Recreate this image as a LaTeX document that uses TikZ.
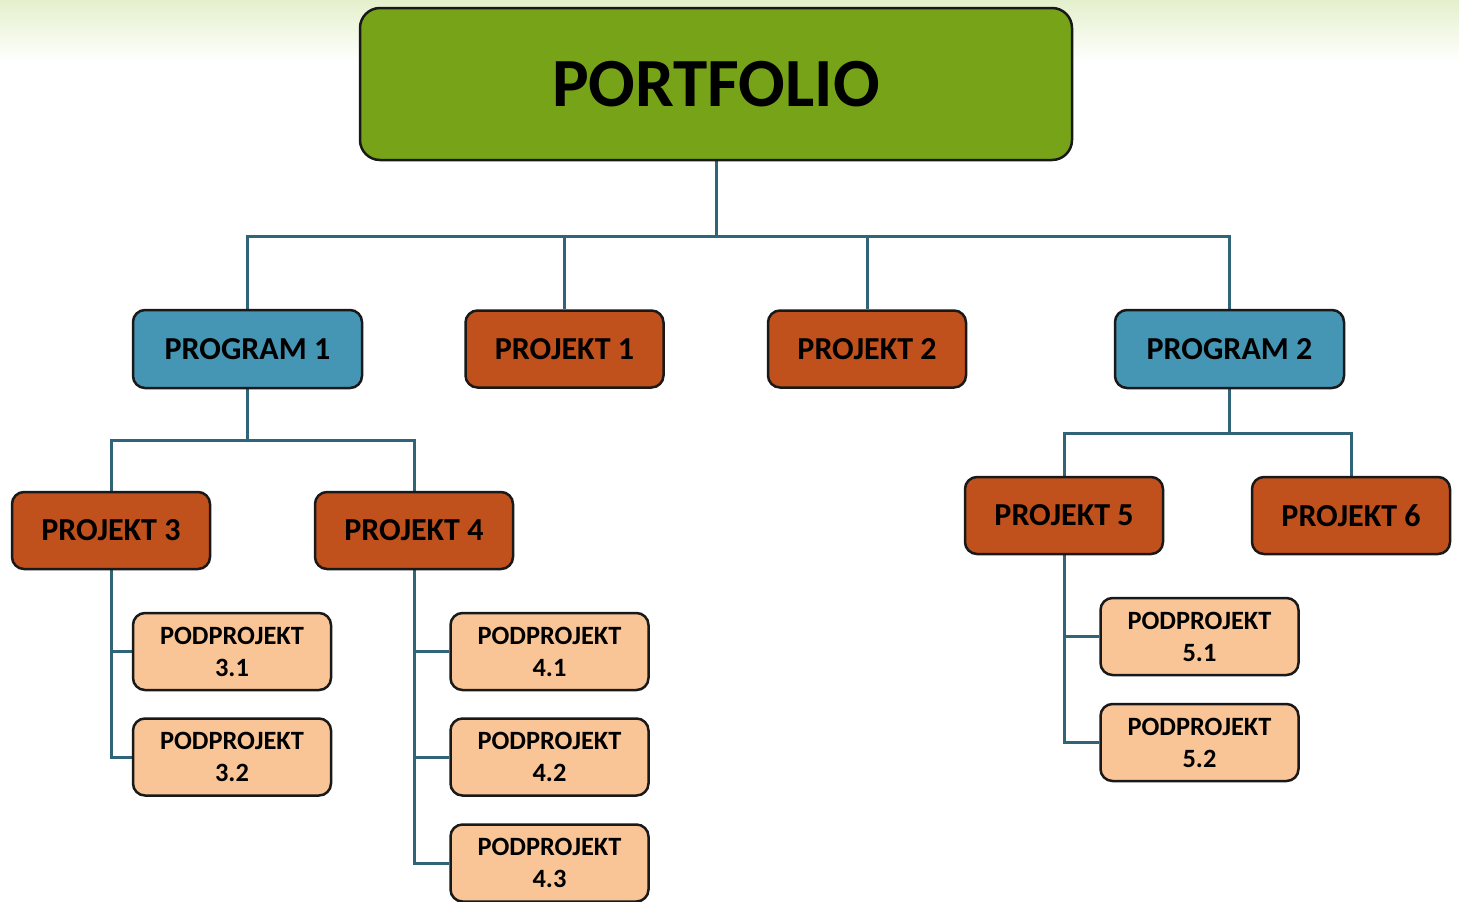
\documentclass[tikz,border=0pt]{standalone}
\usepackage{fontspec}
\setmainfont{Carlito}
\usetikzlibrary{backgrounds}
\definecolor{portgreen}{HTML}{77A318}
\definecolor{progblue}{HTML}{4496B4}
\definecolor{projorange}{HTML}{C0501C}
\definecolor{subpeach}{HTML}{F9C596}
\definecolor{linkteal}{HTML}{2F6479}
\definecolor{bgtop}{HTML}{E4F0CC}

\begin{document}
\begin{tikzpicture}[x=1pt, y=-1pt,
    box/.style={draw=black!90, line width=2.5pt, rounded corners=12pt, inner sep=0pt, text=black, font=\bfseries},
    top/.style={box, fill=portgreen, minimum width=712pt, minimum height=152pt, rounded corners=20pt, font=\fontsize{69}{75}\selectfont\bfseries},
    prog/.style={box, fill=progblue, minimum width=229pt, minimum height=78pt, font=\fontsize{32}{36}\selectfont\bfseries},
    proj/.style={box, fill=projorange, minimum width=198pt, minimum height=77pt, font=\fontsize{32}{36}\selectfont\bfseries},
    sub/.style={box, fill=subpeach, minimum width=198pt, minimum height=77pt, align=center, font=\fontsize{26.4}{32}\selectfont\bfseries},
    link/.style={draw=linkteal, line width=3pt}]
			\useasboundingbox (0,0) rectangle (1459,902);
			% nodes
			\node[top] (port) at (716,84) {PORTFOLIO};
			\node[prog] (prg1) at (247.5,349) {PROGRAM 1};
			\node[proj] (pj1) at (564.5,349) {PROJEKT 1};
			\node[proj] (pj2) at (867,349) {PROJEKT 2};
			\node[prog] (prg2) at (1229.5,349) {PROGRAM 2};
			\node[proj] (pj3) at (111,530.5) {PROJEKT 3};
			\node[proj] (pj4) at (414,530.5) {PROJEKT 4};
			\node[proj] (pj5) at (1064,515.5) {PROJEKT 5};
			\node[proj] (pj6) at (1351,515.5) {PROJEKT 6};
			\node[sub] (sp31) at (232,651.5) {PODPROJEKT\\3.1};
			\node[sub] (sp32) at (232,757) {PODPROJEKT\\3.2};
			\node[sub] (sp41) at (549.5,651.5) {PODPROJEKT\\4.1};
			\node[sub] (sp42) at (549.5,757) {PODPROJEKT\\4.2};
			\node[sub] (sp43) at (549.5,863) {PODPROJEKT\\4.3};
			\node[sub] (sp51) at (1199.5,636.5) {PODPROJEKT\\5.1};
			\node[sub] (sp52) at (1199.5,742.5) {PODPROJEKT\\5.2};
			% connectors
			\coordinate (bus0) at (716,236);
			\coordinate (bus1) at (247.5,440);
			\coordinate (bus2) at (1229.5,433);
			\begin{scope}[on background layer]
			\shade[top color=bgtop, bottom color=white] (0,0) rectangle (1459,62);
			\draw[link] (port.south) -- (bus0);
			\draw[link] (bus0) -| (prg1.north);
			\draw[link] (bus0) -| (pj1.north);
			\draw[link] (bus0) -| (pj2.north);
			\draw[link] (bus0) -| (prg2.north);
			\draw[link] (prg1.south) -- (bus1);
			\draw[link] (bus1) -| (pj3.north);
			\draw[link] (bus1) -| (pj4.north);
			\draw[link] (prg2.south) -- (bus2);
			\draw[link] (bus2) -| (pj5.north);
			\draw[link] (bus2) -| (pj6.north);
			\draw[link] (pj3.south) |- (sp31.west);
			\draw[link] (pj3.south) |- (sp32.west);
			\draw[link] (pj4.south) |- (sp41.west);
			\draw[link] (pj4.south) |- (sp42.west);
			\draw[link] (pj4.south) |- (sp43.west);
			\draw[link] (pj5.south) |- (sp51.west);
			\draw[link] (pj5.south) |- (sp52.west);
			\end{scope}
		\end{tikzpicture}
\end{document}
